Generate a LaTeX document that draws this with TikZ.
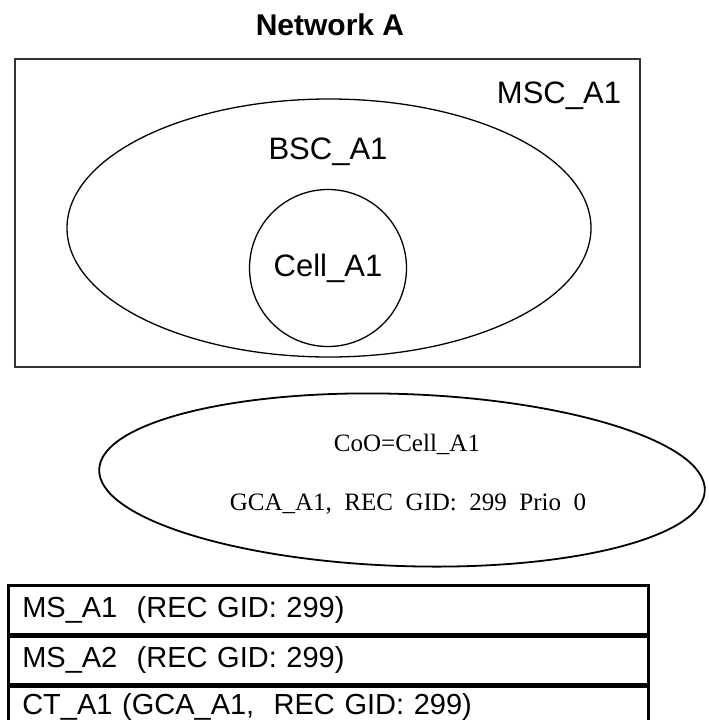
\documentclass[tikz,border=0pt]{standalone}
\usepackage{fontspec}
\setmainfont{Liberation Serif}
\setsansfont{Liberation Sans}
\usetikzlibrary{positioning, shapes.geometric}
\definecolor{framegray}{HTML}{333333}

\begin{document}
\begin{tikzpicture}[x=1pt, y=-1pt,
    zone/.style={draw=black, line width=1.3pt, inner sep=0pt},
    lbl/.style={font=\sffamily\fontsize{31}{36}\selectfont, inner sep=0pt},
    cootext/.style={font=\rmfamily\fontsize{25}{30}\selectfont, inner sep=0pt},
    rowbox/.style={draw=black, line width=2.5pt, minimum height=48pt, text width=612pt,
                   inner xsep=14pt, inner ysep=0pt, align=left,
                   font=\sffamily\fontsize{29}{34}\selectfont}]
    \useasboundingbox (0,0) rectangle (709,720);
    \node[font=\sffamily\bfseries\fontsize{30}{36}\selectfont] (title) at (330,25) {Network A};
    \node[draw=framegray, line width=2pt, minimum width=625pt, minimum height=308pt, inner sep=0pt,
          anchor=north west] (msc) at (14,58) {};
    \node[zone, ellipse, minimum width=524pt, minimum height=258pt] (bsc) at (329,228) {};
    \node[zone, circle, minimum size=157pt] (cell) at (328,268) {};
    \node[lbl] (msclbl) at (559,96) {MSC\_A1};
    \node[lbl] (bsclbl) at (328,152) {BSC\_A1};
    \node[lbl] (celllbl) at (cell) {Cell\_A1};
    \node[zone, ellipse, line width=1.8pt, minimum width=606pt, minimum height=172pt, rotate=-2] (coo) at (402,480) {};
    \node[cootext] (coo1) at (407,444) {CoO=Cell\_A1};
    \node[cootext] (coo2) at (408,504) {GCA\_A1, \ REC \ GID: \ 299 \ Prio \ 0};
    \node[rowbox, minimum height=49pt, anchor=north west] (r1) at (7,584) {MS\_A1 \ (REC GID: 299)};
    \node[rowbox, minimum height=47pt, below=0pt of r1] (r2) {MS\_A2 \ (REC GID: 299)};
    \node[rowbox, minimum height=42pt, below=0pt of r2] (r3) {CT\_A1 (GCA\_A1, \ REC GID: 299)};
\end{tikzpicture}
\end{document}
